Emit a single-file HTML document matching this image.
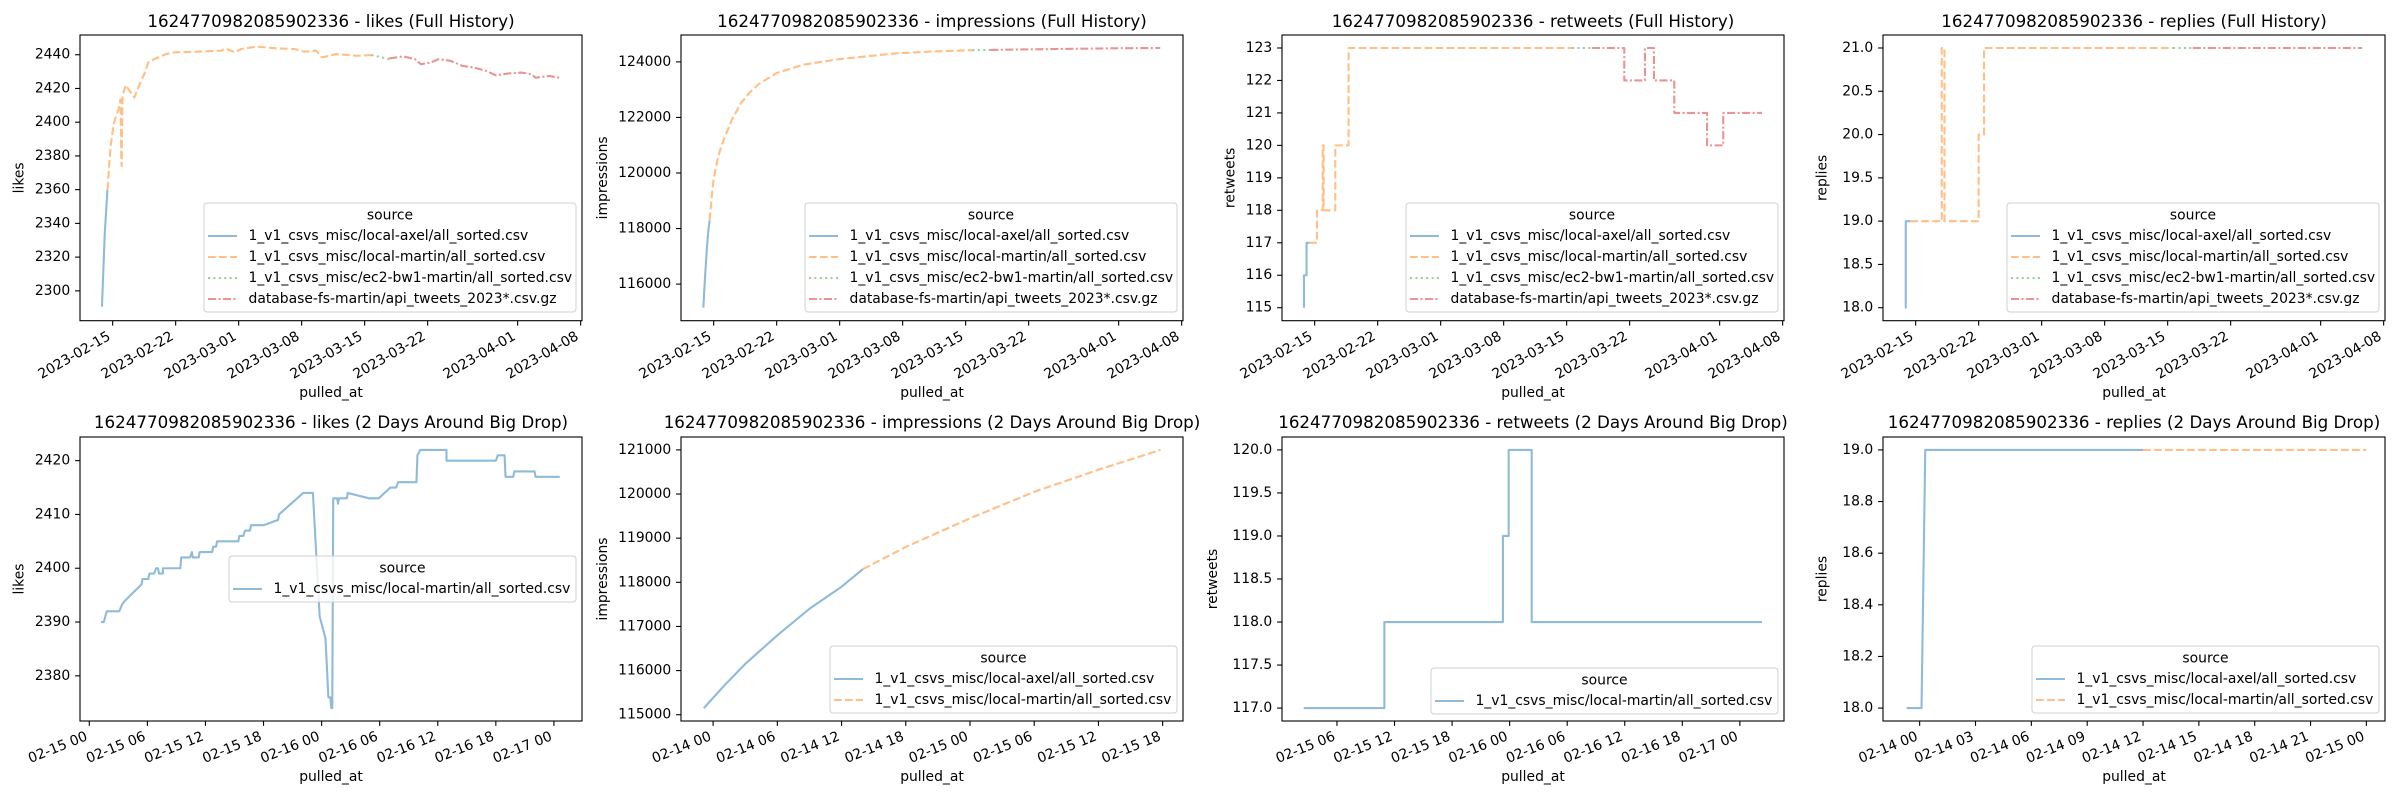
<!DOCTYPE html>
<html><head><meta charset="utf-8"><style>
html,body{margin:0;padding:0;background:#fff;}
svg text{font-family:"DejaVu Sans","Liberation Sans",sans-serif;fill:#000;}
</style></head><body>
<svg id="fig" xmlns="http://www.w3.org/2000/svg" width="2400" height="800" viewBox="0 0 2400 800"></svg>
<script>
// ---------- DATA ----------
// Top row x values: days since 2023-02-15 00:00
const fullTickVals = [0,7,14,21,28,35,45,52];
const fullTickLabels = ["2023-02-15","2023-02-22","2023-03-01","2023-03-08","2023-03-15","2023-03-22","2023-04-01","2023-04-08"];

const likesFullAxelX = [-1.19,-0.88,-0.58];
const likesFullAxelY = [2290.6,2334,2360];
const likesFullMartinX = [-0.58,-0.23,0.13,0.65,0.87,0.96,1.0,1.09,1.44,1.75,2.41,3.07,3.51,3.95,4.61,5.92,6.8,9.44,12.07,12.51,13.61,14.27,16.02,18.22,20.2,21.29,22.61,23.27,24.81,27.0,28.76];
const likesFullMartinY = [2360,2385.7,2399.6,2407.5,2413.5,2378,2374,2415.5,2422,2419.6,2414.6,2423.5,2428.5,2435.4,2437.4,2440.4,2441.4,2441.8,2442.4,2443.8,2441.4,2443.4,2444.8,2443.8,2443.4,2441.8,2442.4,2438.4,2440.4,2439.4,2439.8];
const likesFullEc2X = [28.76,29.8,30.74];
const likesFullEc2Y = [2439.8,2438.5,2437.4];
const likesFullDbX = [30.74,32.28,33.59,34.25,35.35,36.23,37.54,38.86,40.18,41.49,42.59,44.13,45.45,46.54,46.99,48.53,49.62];
const likesFullDbY = [2437.8,2439,2437.4,2434.4,2435.4,2437.4,2436.4,2433.4,2432.4,2430.4,2427.8,2429,2429.4,2428.4,2426.4,2427.4,2426.4];
const likesFullTicks = [2300,2320,2340,2360,2380,2400,2420,2440];

const imprFullAxelX = [-1.15,-0.95,-0.75,-0.6,-0.45];
const imprFullAxelY = [115150,116300,117300,117900,118300];
const imprFullMartinX = [-0.45,-0.2,0,0.5,1,1.5,2,3,4,5,7,10,14,20,24,28.76];
const imprFullMartinY = [118300,119200,119800,120600,121100,121500,121900,122500,122900,123200,123600,123900,124100,124300,124370,124420];
const imprFullEc2X = [28.76,30.74];
const imprFullEc2Y = [124420,124430];
const imprFullDbX = [30.74,35,40,45,49.62];
const imprFullDbY = [124430,124450,124470,124490,124500];
const imprFullTicks = [116000,118000,120000,122000,124000];

const rtFullAxelX = [-1.19,-1.19,-0.9,-0.9,-0.6];
const rtFullAxelY = [115,116,116,117,117];
const rtFullMartinX = [-0.6,0.26,0.26,0.89,0.89,1.0,1.0,2.29,2.29,3.77,3.77,28.6];
const rtFullMartinY = [117,117,118,118,120,120,118,118,120,120,123,123];
const rtFullEc2X = [28.6,30.8];
const rtFullEc2Y = [123,123];
const rtFullDbX = [30.8,34.4,34.4,36.7,36.7,37.7,37.7,39.96,39.96,43.6,43.6,45.4,45.4,49.7];
const rtFullDbY = [123,123,122,122,123,123,122,122,121,121,120,120,121,121];
const rtFullTicks = [115,116,117,118,119,120,121,122,123];

const repFullAxelX = [-1.19,-1.1,-1.1,-0.6];
const repFullAxelY = [18,18,19,19];
const repFullMartinX = [-0.6,2.9,2.9,3.2,3.2,7.0,7.0,7.6,7.6,28.6];
const repFullMartinY = [19,19,21,21,19,19,20,20,21,21];
const repFullEc2X = [28.6,30.8];
const repFullEc2Y = [21,21];
const repFullDbX = [30.8,49.6];
const repFullDbY = [21,21];
const repFullTicks = [18.0,18.5,19.0,19.5,20.0,20.5,21.0];

// Bottom row x values: hours since a reference midnight
// likes drop: hours since 2023-02-15 00:00
const likesDropX = [1.22,1.5,1.8,3.1,3.4,3.7,5.4,5.5,6.1,6.2,6.7,6.9,7.1,7.2,7.6,7.6,9.4,9.5,10.4,10.6,10.7,11.3,11.4,12.7,12.8,13.1,13.2,15.4,15.5,15.9,16.1,16.6,16.7,18.0,19.5,19.6,22.1,23.1,23.8,24.4,24.7,24.9,25.0,25.1,25.2,25.6,25.7,25.8,26.6,26.7,28.9,29.9,31.1,31.7,31.9,33.8,33.9,34.2,36.9,36.9,42.0,42.2,42.9,43.0,43.8,43.9,46.0,46.1,48.6];
const likesDropY = [2390,2390,2392,2392,2393.3,2394,2397,2398,2398,2399,2399,2400,2400,2399,2399,2400,2400,2402,2402,2403,2402,2402,2403,2403,2404,2404,2405,2405,2406,2406,2407,2407,2408,2408,2409,2410,2414,2414,2391,2387,2376,2376,2374,2374,2413,2413,2412,2413,2413,2414,2413,2413,2415,2415,2416,2416,2421,2422,2422,2420,2420,2421,2421,2417,2417,2418,2418,2417,2417];
const likesDropTickVals = [0,6,12,18,24,30,36,42,48];
const likesDropTickLabels = ["02-15 00","02-15 06","02-15 12","02-15 18","02-16 00","02-16 06","02-16 12","02-16 18","02-17 00"];
const likesDropTicks = [2380,2390,2400,2410,2420];

// impressions drop: hours since 2023-02-14 00:00
const imprDropAxelX = [-0.87,1,3,6,9,12,14];
const imprDropAxelY = [115150,115650,116150,116800,117400,117900,118300];
const imprDropMartinX = [14,18,24,30,36,41.8];
const imprDropMartinY = [118300,118800,119450,120050,120550,121000];
const imprDropTickVals = [0,6,12,18,24,30,36,42];
const imprDropTickLabels = ["02-14 00","02-14 06","02-14 12","02-14 18","02-15 00","02-15 06","02-15 12","02-15 18"];
const imprDropTicks = [115000,116000,117000,118000,119000,120000,121000];

// retweets drop: hours since 2023-02-15 00:00
const rtDropX = [2.53,10.94,10.94,23.3,23.3,23.9,23.9,26.3,26.3,50.3];
const rtDropY = [117,117,118,118,119,119,120,120,118,118];
const rtDropTickVals = [6,12,18,24,30,36,42,48];
const rtDropTickLabels = ["02-15 06","02-15 12","02-15 18","02-16 00","02-16 06","02-16 12","02-16 18","02-17 00"];
const rtDropTicks = [117.0,117.5,118.0,118.5,119.0,119.5,120.0];

// replies drop: hours since 2023-02-14 00:00
const repDropAxelX = [-0.7,0.1,0.3,12];
const repDropAxelY = [18,18,19,19];
const repDropMartinX = [12,24];
const repDropMartinY = [19,19];
const repDropTickVals = [0,3,6,9,12,15,18,21,24];
const repDropTickLabels = ["02-14 00","02-14 03","02-14 06","02-14 09","02-14 12","02-14 15","02-14 18","02-14 21","02-15 00"];
const repDropTicks = [18.0,18.2,18.4,18.6,18.8,19.0];

// ---------- RENDERING ----------
const NS = "http://www.w3.org/2000/svg";
const svg = document.getElementById("fig");
const C = {
  axel:   {color:"#8fbbd9", dash:""},
  martin: {color:"#ffbf86", dash:"7.7 3.3"},
  ec2:    {color:"#95cf95", dash:"2 3.4"},
  db:     {color:"#ea9393", dash:"8 2.5 2 2.5"}
};
const LBL = {
  axel:"1_v1_csvs_misc/local-axel/all_sorted.csv",
  martin:"1_v1_csvs_misc/local-martin/all_sorted.csv",
  ec2:"1_v1_csvs_misc/ec2-bw1-martin/all_sorted.csv",
  db:"database-fs-martin/api_tweets_2023*.csv.gz"
};
function mk(tag, attrs, parent){
  const e = document.createElementNS(NS, tag);
  for (const k in attrs) e.setAttribute(k, attrs[k]);
  (parent||svg).appendChild(e);
  return e;
}
function fmt(v, dec){ return dec ? v.toFixed(dec) : String(v); }

function drawPlot(p){
  const g = mk("g", {});
  
  
  const L = p.left, T = p.top, W = 502, H = p.bottom - p.top;
  const sx = v => L + (v - p.xd[0]) / (p.xd[1] - p.xd[0]) * W;
  const sy = v => p.bottom - (v - p.yd[0]) / (p.yd[1] - p.yd[0]) * H;
  p.series.forEach(s => {
    const pts = s.x.map((xv,i) => sx(xv).toFixed(2) + "," + sy(s.y[i]).toFixed(2)).join(" ");
    const line = mk("polyline", {points:pts, fill:"none", stroke:C[s.k].color, "stroke-width":2.1, "stroke-dasharray":C[s.k].dash, "stroke-linejoin":"round"}, g);
    
    
  });
  const fr = mk("rect", {x:L, y:T, width:W, height:H, fill:"none", stroke:"#000", "stroke-width":1.1}, g);
  
  
  let maxw = 0;
  p.yt.forEach(v => {
    const y = sy(v);
    mk("line", {x1:L-4.9, x2:L, y1:y, y2:y, stroke:"#000", "stroke-width":1.1}, g);
    const t = mk("text", {x:L-9.8, y:y, "text-anchor":"end", "dominant-baseline":"central", "font-size":"13.9px"}, g);
    t.textContent = fmt(v, p.ydec);
    
    
    maxw = Math.max(maxw, t.textContent.length * 8.85);
  });
  const rot = p.rot, h = 16, th = rot * Math.PI / 180;
  p.xt.forEach((v,i) => {
    const x = sx(v);
    mk("line", {x1:x, x2:x, y1:p.bottom, y2:p.bottom+4.9, stroke:"#000", "stroke-width":1.1}, g);
    const ax = x - h*Math.sin(th)*0.75, ay = p.bottom + 9.8;
    const t = mk("text", {x:ax, y:ay, "text-anchor":"end", "dominant-baseline":"hanging", "font-size":"13.9px", transform:`rotate(${-rot} ${ax} ${ay})`}, g);
    t.textContent = p.xl[i];
    
    
  });
  const xl = mk("text", {x:L+W/2, y:p.xlabY, "text-anchor":"middle", "dominant-baseline":"central", "font-size":"13.9px"}, g);
  xl.textContent = "pulled_at";
  
  
  const ylx = L - 10 - maxw - 15, yly = T + H/2;
  const yl = mk("text", {x:ylx, y:yly, "text-anchor":"middle", "dominant-baseline":"central", "font-size":"13.9px", transform:`rotate(-90 ${ylx} ${yly})`}, g);
  yl.textContent = p.ylabel;
  
  
  const tt = mk("text", {x:L+W/2, y:p.titleY, "text-anchor":"middle", "font-size":"16.7px"}, g);
  tt.textContent = p.title;
  
  
  const lg = p.legend, lh = 25 + 21*lg.keys.length;
  const lgG = mk("g", {}, g);
  
  
  mk("rect", {x:lg.x, y:lg.y, width:lg.w, height:lh, rx:3, fill:"#fff", "fill-opacity":0.8, stroke:"#d0d0d0", "stroke-width":1}, lgG);
  const lt = mk("text", {x:lg.x+lg.w/2, y:lg.y+12.5, "text-anchor":"middle", "dominant-baseline":"central", "font-size":"13.9px"}, lgG);
  lt.textContent = "source";
  
  
  lg.keys.forEach((k,i) => {
    const y = lg.y + 33 + 21*i;
    const sk = lg.lineKeys ? lg.lineKeys[i] : k;
    const ln = mk("line", {x1:lg.x+4, x2:lg.x+33, y1:y, y2:y, stroke:C[sk].color, "stroke-width":2.1, "stroke-dasharray":C[sk].dash}, lgG);
    
    
    const tx = mk("text", {x:lg.x+44.5, y:y, "dominant-baseline":"central", "font-size":"13.9px"}, lgG);
    tx.textContent = LBL[k];
    
    
  });
}

const lefts = [80, 681, 1282, 1883];
const topRow = {top:35, bottom:320.7, xd:[-3.63,52.15], xt:fullTickVals, xl:fullTickLabels, rot:30, xlabY:393, titleY:27};
const botRow = {top:437, bottom:721, rot:22, xlabY:777, titleY:428};
const allKeys = ["axel","martin","ec2","db"];
const id = "1624770982085902336";

drawPlot(Object.assign({}, topRow, {name:"likes-full-history", left:lefts[0], yd:[2282.3,2451.7], yt:likesFullTicks, ylabel:"likes",
  title:id+" - likes (Full History)",
  series:[{k:"axel",x:likesFullAxelX,y:likesFullAxelY},{k:"martin",x:likesFullMartinX,y:likesFullMartinY},{k:"ec2",x:likesFullEc2X,y:likesFullEc2Y},{k:"db",x:likesFullDbX,y:likesFullDbY}],
  legend:{x:lefts[0]+502-6-372, y:203, w:372, keys:allKeys}}));
drawPlot(Object.assign({}, topRow, {name:"impressions-full-history", left:lefts[1], yd:[114683,124967], yt:imprFullTicks, ylabel:"impressions",
  title:id+" - impressions (Full History)",
  series:[{k:"axel",x:imprFullAxelX,y:imprFullAxelY},{k:"martin",x:imprFullMartinX,y:imprFullMartinY},{k:"ec2",x:imprFullEc2X,y:imprFullEc2Y},{k:"db",x:imprFullDbX,y:imprFullDbY}],
  legend:{x:lefts[1]+502-6-372, y:203, w:372, keys:allKeys}}));
drawPlot(Object.assign({}, topRow, {name:"retweets-full-history", left:lefts[2], yd:[114.6,123.4], yt:rtFullTicks, ylabel:"retweets",
  title:id+" - retweets (Full History)",
  series:[{k:"axel",x:rtFullAxelX,y:rtFullAxelY},{k:"martin",x:rtFullMartinX,y:rtFullMartinY},{k:"ec2",x:rtFullEc2X,y:rtFullEc2Y},{k:"db",x:rtFullDbX,y:rtFullDbY}],
  legend:{x:lefts[2]+502-6-372, y:203, w:372, keys:allKeys}}));
drawPlot(Object.assign({}, topRow, {name:"replies-full-history", left:lefts[3], yd:[17.85,21.15], yt:repFullTicks, ydec:1, ylabel:"replies",
  title:id+" - replies (Full History)",
  series:[{k:"axel",x:repFullAxelX,y:repFullAxelY},{k:"martin",x:repFullMartinX,y:repFullMartinY},{k:"ec2",x:repFullEc2X,y:repFullEc2Y},{k:"db",x:repFullDbX,y:repFullDbY}],
  legend:{x:lefts[3]+502-6-372, y:203, w:372, keys:allKeys}}));

drawPlot(Object.assign({}, botRow, {name:"likes-big-drop", left:lefts[0], xd:[-0.96,50.9], xt:likesDropTickVals, xl:likesDropTickLabels, yd:[2371.6,2424.4], yt:likesDropTicks, ylabel:"likes",
  title:id+" - likes (2 Days Around Big Drop)",
  series:[{k:"axel",x:likesDropX,y:likesDropY}],
  legend:{x:229, y:556, w:347, keys:["martin"], lineKeys:["axel"]}}));
drawPlot(Object.assign({}, botRow, {name:"impressions-big-drop", left:lefts[1], xd:[-3.0,43.9], xt:imprDropTickVals, xl:imprDropTickLabels, yd:[114858,121292], yt:imprDropTicks, ylabel:"impressions",
  title:id+" - impressions (2 Days Around Big Drop)",
  series:[{k:"axel",x:imprDropAxelX,y:imprDropAxelY},{k:"martin",x:imprDropMartinX,y:imprDropMartinY}],
  legend:{x:lefts[1]+502-6-347, y:646, w:347, keys:["axel","martin"]}}));
drawPlot(Object.assign({}, botRow, {name:"retweets-big-drop", left:lefts[2], xd:[0.27,52.6], xt:rtDropTickVals, xl:rtDropTickLabels, yd:[116.85,120.15], yt:rtDropTicks, ydec:1, ylabel:"retweets",
  title:id+" - retweets (2 Days Around Big Drop)",
  series:[{k:"axel",x:rtDropX,y:rtDropY}],
  legend:{x:1431, y:668, w:347, keys:["martin"], lineKeys:["axel"]}}));
drawPlot(Object.assign({}, botRow, {name:"replies-big-drop", left:lefts[3], xd:[-1.97,25.0], xt:repDropTickVals, xl:repDropTickLabels, yd:[17.95,19.05], yt:repDropTicks, ydec:1, ylabel:"replies",
  title:id+" - replies (2 Days Around Big Drop)",
  series:[{k:"axel",x:repDropAxelX,y:repDropAxelY},{k:"martin",x:repDropMartinX,y:repDropMartinY}],
  legend:{x:lefts[3]+502-6-347, y:646, w:347, keys:["axel","martin"]}}));
</script>
</body></html>
